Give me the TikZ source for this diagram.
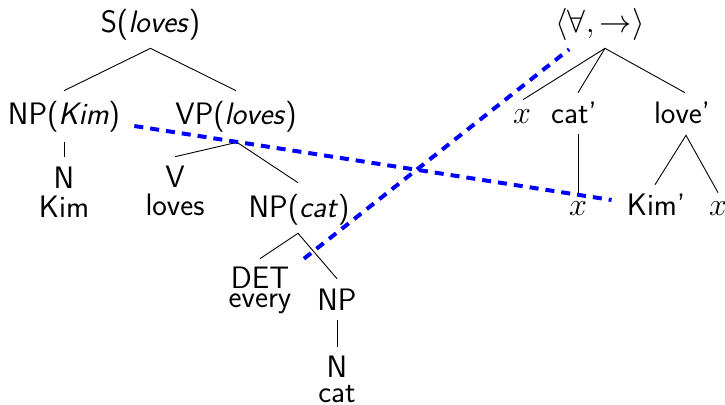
\documentclass[tikz,border=0pt]{standalone}
\renewcommand{\familydefault}{\sfdefault}
\begin{document}
\begin{tikzpicture}[x=1pt,y=-1pt,
  lbl/.style={font=\fontsize{20}{24}\selectfont, scale=1.55, inner sep=0pt,
              text height=12.26pt, text depth=0pt, anchor=base},
  branch/.style={draw=black, line width=0.9pt},
  link/.style={draw=blue, line width=4pt, dash pattern=on 9pt off 7pt}]
\useasboundingbox (0,0) rectangle (725,404);

% syntax tree
\node[lbl] (s)    at (150.5,33)  {S(\textit{loves})};
\node[lbl] (npk)  at (64,124)    {NP(\textit{Kim})};
\node[lbl] (vp)   at (236,124)   {VP(\textit{loves})};
\node[lbl] (n1)   at (64,188)    {N};
\node[lbl] (n1w)  at (64,217)    {Kim};
\node[lbl] (v)    at (175,187)   {V};
\node[lbl] (vw)   at (175,215)   {loves};
\node[lbl] (npc)  at (299,217)   {NP(\textit{cat})};
\node[lbl] (det)  at (260,288)   {DET};
\node[lbl] (detw) at (260,307)   {every};
\node[lbl] (np)   at (337,310)   {NP};
\node[lbl] (n2)   at (337,377)   {N};
\node[lbl] (n2w)  at (337,402)   {cat};

\draw[branch] ([yshift=14pt]npk.north) -- ([yshift=-15pt]s.south) -- ([yshift=14pt]vp.north);
\draw[branch] ([yshift=-18pt]npk.south) -- ([yshift=12pt]n1.north);
\draw[branch] ([yshift=11pt]v.north) -- ([xshift=1pt,yshift=-18pt]vp.south) -- ([xshift=-1pt,yshift=15pt]npc.north);
\draw[branch] ([yshift=10pt]det.north) -- ([xshift=-1pt,yshift=-16pt]npc.south) -- ([yshift=12pt]np.north);
\draw[branch] ([yshift=-10pt]np.south) -- ([yshift=11pt]n2.north);

% semantic tree
\node[lbl] (q)    at (600,33)    {$\langle\forall,\rightarrow\rangle$};
\node[lbl] (x1)   at (522,123)   {$x$};
\node[lbl] (catp) at (574,123)   {cat'};
\node[lbl] (love) at (682,123)   {love'};
\node[lbl] (x2)   at (578,215)   {$x$};
\node[lbl] (kim)  at (656,215)   {Kim'};
\node[lbl] (x3)   at (718,215)   {$x$};

\draw[branch] ([xshift=1pt,yshift=4pt]x1.north) -- ([xshift=5pt,yshift=-15pt]q.south);
\draw[branch] ([xshift=4pt,yshift=11pt]catp.north) -- ([xshift=5pt,yshift=-15pt]q.south) -- ([xshift=3pt,yshift=11pt]love.north);
\draw[branch] ([xshift=4pt,yshift=-11pt]catp.south) -- ([yshift=3pt]x2.north);
\draw[branch] ([xshift=-1pt,yshift=11pt]kim.north) -- ([xshift=4pt,yshift=-12pt]love.south) -- ([yshift=3pt]x3.north);

% links between the trees
\draw[link] ([xshift=14pt,yshift=-2pt]npk.base east) -- ([xshift=-15pt,yshift=5.5pt]kim.west);
\draw[link] ([xshift=14.5pt,yshift=10pt]det.north east) -- ([xshift=14pt,yshift=-16pt]q.south west);
\end{tikzpicture}
\end{document}
